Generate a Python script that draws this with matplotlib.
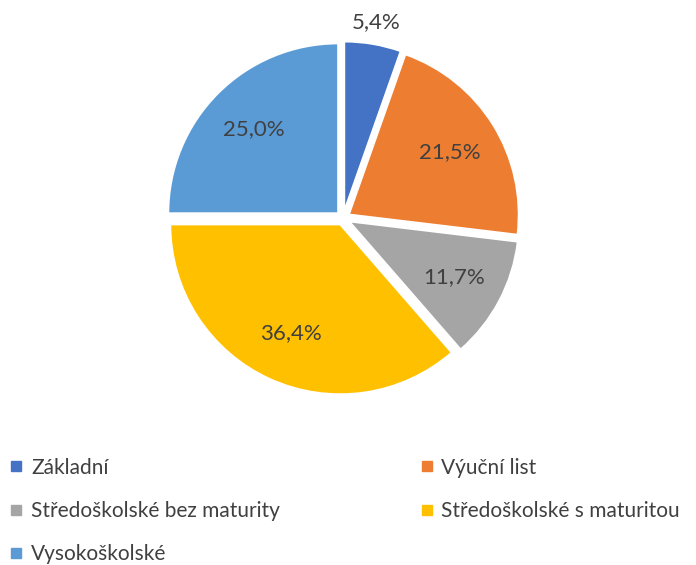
import matplotlib
matplotlib.use("Agg")
import matplotlib.pyplot as plt
from matplotlib.lines import Line2D
import numpy as np

categories = ["Základní", "Výuční list", "Středoškolské bez maturity",
              "Středoškolské s maturitou", "Vysokoškolské"]
values = [5.4, 21.5, 11.7, 36.4, 25.0]
colors = ["#4472C4", "#ED7D31", "#A5A5A5", "#FFC000", "#5B9BD5"]

plt.rcParams['font.family'] = ['Lato', 'DejaVu Sans']
text_color = "#404040"

fig = plt.figure(figsize=(6.96, 5.65), dpi=100)
ax = fig.add_axes([0.2486, 0.313, 0.4885, 0.6018])

wedges, texts, autotexts = ax.pie(
    values, colors=colors, startangle=90, counterclock=False,
    explode=[0.04] * len(values), radius=1.0,
    autopct=lambda p: f"{p:.1f}%".replace(".", ","),
    pctdistance=0.70,
    wedgeprops=dict(edgecolor="white", linewidth=1.5),
    textprops=dict(color=text_color, fontsize=16))

# first label placed outside the slice
w = wedges[0]
ang = np.deg2rad((w.theta1 + w.theta2) / 2)
cx, cy = w.center
autotexts[0].set_position((cx + 1.13 * np.cos(ang), cy + 1.13 * np.sin(ang)))

ax.set_xlim(-1, 1)
ax.set_ylim(-1, 1)
ax.set_aspect("equal")
ax.axis("off")

# legend filled row by row (matplotlib fills columns first)
order = [0, 2, 4, 1, 3]
handles = [Line2D([0], [0], marker="s", linestyle="", markersize=6.5,
                  markerfacecolor=colors[i], markeredgecolor=colors[i]) for i in order]
labels = [categories[i] for i in order]
leg = fig.legend(handles, labels, loc="upper left", bbox_to_anchor=(0.001, 0.205),
                 ncol=2, frameon=False, fontsize=15, labelcolor=text_color,
                 handlelength=0.7, handletextpad=0.35, columnspacing=6.7,
                 labelspacing=1.12, borderaxespad=0)

fig.savefig("out.png", dpi=100)
